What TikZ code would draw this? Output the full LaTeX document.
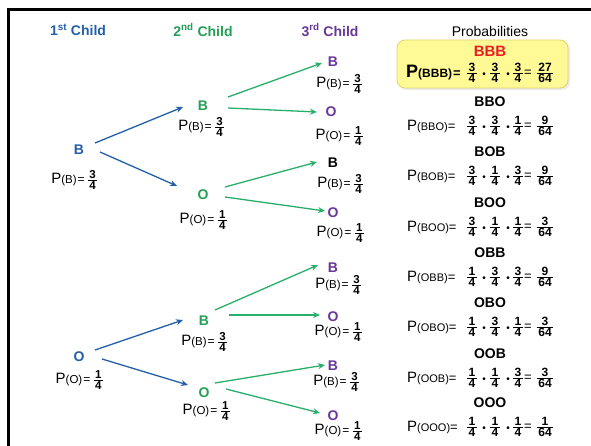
\documentclass[tikz,border=0pt]{standalone}
\usepackage{fontspec}
\setmainfont{Liberation Sans}
\usetikzlibrary{arrows.meta}
\definecolor{cblue}{RGB}{35,95,170}
\definecolor{cgreen}{RGB}{35,160,85}
\definecolor{cagreen}{RGB}{40,175,105}
\definecolor{cpurple}{RGB}{105,55,155}
\definecolor{cred}{RGB}{235,30,35}
\definecolor{cyel}{RGB}{255,249,150}
\definecolor{cyelb}{RGB}{225,210,110}
\newcommand\myfr[2]{$\frac{\hbox{\kern1.6pt\bfseries #1\kern1.6pt}}{\hbox{\kern1.6pt\bfseries #2\kern1.6pt}}$}
\newcommand\tlab[2]{P{\fontsize{11.5}{11.5}\selectfont(#1)}\kern1pt{\fontsize{12}{12}\selectfont=}\kern2pt{\fontsize{11.5}{11.5}\selectfont\myfr{#2}{4}}}
\tikzset{
  x=1pt,y=-1pt,
  hdr/.style={font=\bfseries\fontsize{14}{14}\selectfont, inner sep=0pt},
  let/.style={font=\bfseries\fontsize{14}{14}\selectfont, inner sep=0pt},
  tl/.style={font=\fontsize{15}{15}\selectfont, inner sep=0pt},
  ttl/.style={font=\bfseries\fontsize{14}{14}\selectfont, inner sep=0pt},
  plab/.style={font=\fontsize{15}{15}\selectfont, inner sep=0pt, anchor=west},
  pfr/.style={font=\fontsize{12}{12}\selectfont, inner sep=0pt},
  peq/.style={font=\fontsize{13}{13}\selectfont, inner sep=0pt},
  pdot/.style={font=\fontsize{10}{10}\selectfont, inner sep=0pt},
  barr/.style={draw=cblue, line width=1.3pt, -{Stealth[length=7pt,width=6pt]}},
  garr/.style={draw=cagreen, line width=1.3pt, -{Stealth[length=7pt,width=6pt]}},
}
\begin{document}
\begin{tikzpicture}
\useasboundingbox (0,0) rectangle (591,446);
\fill[white] (0,0) rectangle (591,446);
\draw[line width=3pt] (8,446) -- (8,10) -- (591,10);
% headers
\node[hdr, text=cblue] (h1) at (78,30) {1\textsuperscript{st} Child};
\node[hdr, text=cgreen] (h2) at (203,30) {2\textsuperscript{nd} Child};
\node[hdr, text=cpurple] (h3) at (330,30) {3\textsuperscript{rd} Child};
\node[font=\fontsize{14}{14}\selectfont, inner sep=0pt] (h4) at (490,31) {Probabilities};
% level 1
\node[let, text=cblue] (b1) at (79,150) {B};
\node[let, text=cblue] (o1) at (79,357) {O};
\node[tl] (lb1) at (75,180) {\tlab{B}{3}};
\node[tl] (lo1) at (80,380) {\tlab{O}{1}};
% level 2
\node[let, text=cgreen] (bb) at (203,106) {B};
\node[let, text=cgreen] (bo) at (203,195) {O};
\node[let, text=cgreen] (ob) at (204,321) {B};
\node[let, text=cgreen] (oo) at (204,393) {O};
\node[tl] (lbb) at (202,127) {\tlab{B}{3}};
\node[tl] (lbo) at (204,220) {\tlab{O}{1}};
\node[tl] (lob) at (205,342) {\tlab{B}{3}};
\node[tl] (loo) at (207,411) {\tlab{O}{1}};
% level 3
\node[let, text=cpurple] (bbb) at (333,62) {B};
\node[let, text=cpurple] (bbo) at (331,112) {O};
\node[let, text=black] (bob) at (333,163) {B};
\node[let, text=cpurple] (boo) at (333,213) {O};
\node[let, text=cpurple] (obb) at (333,268) {B};
\node[let, text=cpurple] (obo) at (333,317) {O};
\node[let, text=cpurple] (oob) at (333,366) {B};
\node[let, text=cpurple] (ooo) at (333,416) {O};
\node[tl] (lbbb) at (340,84) {\tlab{B}{3}};
\node[tl] (lbbo) at (340,136) {\tlab{O}{1}};
\node[tl] (lbob) at (341,184) {\tlab{B}{3}};
\node[tl] (lboo) at (341,233) {\tlab{O}{1}};
\node[tl] (lobb) at (339,285) {\tlab{B}{3}};
\node[tl] (lobo) at (339,332) {\tlab{O}{1}};
\node[tl] (loob) at (337,382) {\tlab{B}{3}};
\node[tl] (looo) at (339,431) {\tlab{O}{1}};
% blue arrows
\draw[barr] ([shift={(16,-7)}]b1.center) -- ([shift={(-20,1)}]bb.center);
\draw[barr] ([shift={(21,2)}]b1.center) -- ([shift={(-26,-9)}]bo.center);
\draw[barr] ([shift={(16,-7)}]o1.center) -- ([shift={(-21,-1)}]ob.center);
\draw[barr] ([shift={(23,2)}]o1.center) -- ([shift={(-16,-8)}]oo.center);
% green arrows
\draw[garr] ([shift={(25,-9)}]bb.center) -- ([shift={(-11,1)}]bbb.center);
\draw[garr] ([shift={(25,2)}]bb.center) -- ([shift={(-14,0)}]bbo.center);
\draw[garr] ([shift={(22,-8)}]bo.center) -- ([shift={(-16,-1)}]bob.center);
\draw[garr] ([shift={(22,2)}]bo.center) -- ([shift={(-8,-2)}]boo.center);
\draw[garr] ([shift={(11,-11)}]ob.center) -- ([shift={(-15,-3)}]obb.center);
\draw[garr] ([shift={(25,-6)}]ob.center) -- ([shift={(-13,-2)}]obo.center);
\draw[garr] ([shift={(11,-10)}]oo.center) -- ([shift={(-8,-1)}]oob.center);
\draw[garr] ([shift={(22,-4)}]oo.center) -- ([shift={(-13,-3)}]ooo.center);
% probabilities
\fill[black!8, rounded corners=8pt] (399,42) rectangle (570,90);
\draw[cyelb, fill=cyel, line width=0.8pt, rounded corners=8pt] (397,40) rectangle (568,88);
\node[font=\bfseries\fontsize{15}{15}\selectfont, text=cred, inner sep=0pt] (tbbb) at (490,51) {BBB};
\node[font=\fontsize{18}{18}\selectfont, inner sep=0pt, anchor=west] (pbbb) at (406,73) {\bfseries P{\fontsize{12}{12}\selectfont(BBB)}\kern1pt{\fontsize{13}{13}\selectfont=}};
\node[pfr] (pbbb1) at (472,73) {\myfr{3}{4}};
\node[pdot] (pbbbd1) at (484,75) {\textbullet};
\node[pfr] (pbbb2) at (495,73) {\myfr{3}{4}};
\node[pdot] (pbbbd2) at (508,75) {\textbullet};
\node[pfr] (pbbb3) at (518,73) {\myfr{3}{4}};
\node[peq] (pbbbe) at (528,73) {=};
\node[pfr] (pbbbr) at (545,73) {\myfr{27}{64}};
\foreach \nm/\ty/\fy/\a/\b/\c/\r in {BBO/102/126/3/3/1/9, BOB/152/176/3/1/3/9, BOO/203/227/3/1/1/3, OBB/253/277/1/3/3/9, OBO/303/327/1/3/1/3, OOB/354/378/1/1/3/3, OOO/403/427/1/1/1/1}{
  \node[ttl] (t\nm) at (490,\ty) {\nm};
  \node[plab] (p\nm) at (407,\fy) {P{\fontsize{11}{11}\selectfont(\nm)}{\fontsize{13}{13}\selectfont=}};
  \node[pfr] (p\nm1) at (472,\fy) {\myfr{\a}{4}};
  \node[pdot] (p\nm d1) at (484,\fy+2) {\textbullet};
  \node[pfr] (p\nm2) at (495,\fy) {\myfr{\b}{4}};
  \node[pdot] (p\nm d2) at (508,\fy+2) {\textbullet};
  \node[pfr] (p\nm3) at (518,\fy) {\myfr{\c}{4}};
  \node[peq] (p\nm e) at (528,\fy) {=};
  \node[pfr] (p\nm r) at (545,\fy) {\myfr{\r}{64}};
}
\end{tikzpicture}
\end{document}
